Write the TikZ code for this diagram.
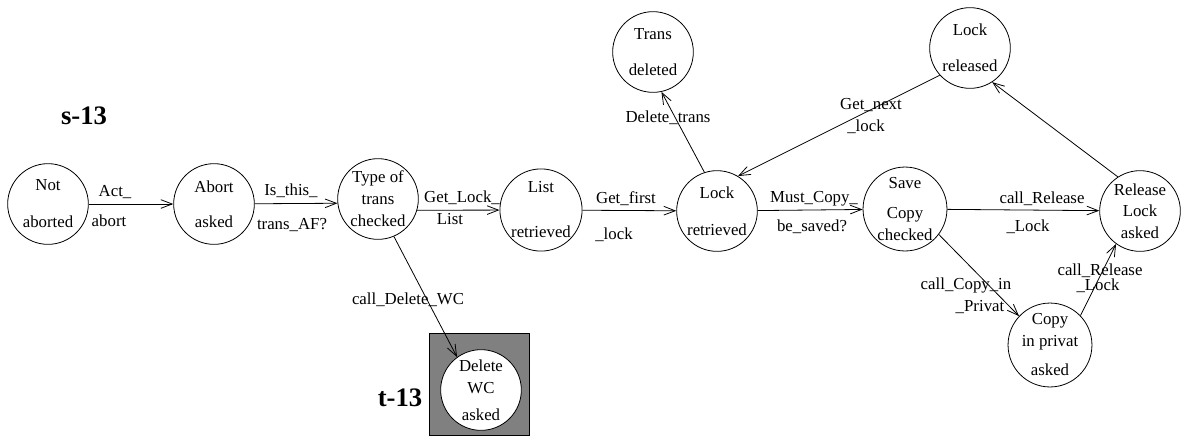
\documentclass[tikz,border=0pt]{standalone}
\usepackage{fontspec}
\setmainfont{Liberation Serif}
\usetikzlibrary{arrows.meta}
\begin{document}
\begin{tikzpicture}[x=0.75pt,y=-0.75pt,
  every node/.style={font=\fontsize{12.6}{14}\selectfont, inner sep=0pt},
  st/.style={circle, draw, line width=0.6pt, minimum size=60.5pt, inner sep=0pt, align=center},
  lbl/.style={inner sep=0pt},
  big/.style={font=\fontsize{20}{24}\selectfont\bfseries},
  arr/.style={line width=0.6pt, -{Straight Barb[length=8.5pt,width=6.5pt]}}]
\useasboundingbox (0,0) rectangle (1182,437);
% gray box
\node[draw, line width=0.6pt, fill=black!50, minimum width=75pt, minimum height=76.5pt] (box) at (479,384) {};
% states
\node[st] (na) at (48,204) {Not\\[13.75pt]aborted};
\node[st] (aa) at (214,204) {Abort\\[12.25pt]asked};
\node[st] (tc) at (378,199) {Type of\\[2.5pt]trans\\[2.5pt]checked};
\node[st] (lr) at (541,210) {List\\[19.75pt]retrieved};
\node[st] (lk) at (717,211) {Lock\\[13.75pt]retrieved};
\node[st] (sc) at (905,209) {Save\\[8.5pt]Copy\\[2.5pt]checked};
\node[st] (ra) at (1140,211) {Release\\[2pt]Lock\\[2pt]asked};
\node[st] (td) at (653,52) {Trans\\[13pt]deleted};
\node[st] (lrel) at (970,48) {Lock\\[13pt]released};
\node[st] (cp) at (1050,345) {Copy\\[2.5pt]in privat\\[7.75pt]asked};
\node[st, fill=white] (dw) at (481,390) {Delete\\[2.5pt]WC\\[6.25pt]asked};
% titles
\node[big] (s13) at (84,116) {s-13};
\node[big] (t13) at (400,398) {t-13};
% edges
\draw[arr] (na) -- (aa);
\draw[arr] (aa) -- (tc.186);
\draw[arr] (tc.-16) -- (lr);
\draw[arr] (lr) -- (lk);
\draw[arr] (lk) -- (sc);
\draw[arr] (sc) -- (ra);
\draw[arr] (lk.108) -- (td.-78);
\draw[arr] (lrel.222) -- (lk.59);
\draw[arr] (ra.123) -- (lrel.-57);
\draw[arr] (sc.-37) -- (cp.137);
\draw[arr] (cp.44) -- (ra.234);
\draw[arr] (tc.-67) -- (dw.126);
% edge labels
\node[lbl] (l1) at (115,192) {Act\_};
\node[lbl] (l2) at (109,221) {abort};
\node[lbl] (l3) at (291,191) {Is\_this\_};
\node[lbl] (l4) at (292,225) {trans\_AF?};
\node[lbl] (l5) at (462,198) {Get\_Lock\_};
\node[lbl] (l6) at (450,219) {List};
\node[lbl] (l7) at (626,199) {Get\_first};
\node[lbl] (l8) at (614,235) {\_lock};
\node[lbl] (l9) at (814,199) {Must\_Copy\_};
\node[lbl] (l10) at (812,227) {be\_saved?};
\node[lbl] (l11) at (1042,199) {call\_Release};
\node[lbl] (l12) at (1028,227) {\_Lock};
\node[lbl] (l13) at (668,118) {Delete\_trans};
\node[lbl] (l14) at (871,105) {Get\_next};
\node[lbl] (l15) at (866,127) {\_lock};
\node[lbl] (l16) at (966,285) {call\_Copy\_in};
\node[lbl] (l17) at (980,307) {\_Privat};
\node[lbl] (l18) at (1100,271) {call\_Release};
\node[lbl] (l19) at (1098,286) {\_Lock};
\node[lbl] (l20) at (408,300) {call\_Delete\_WC};
\end{tikzpicture}
\end{document}
